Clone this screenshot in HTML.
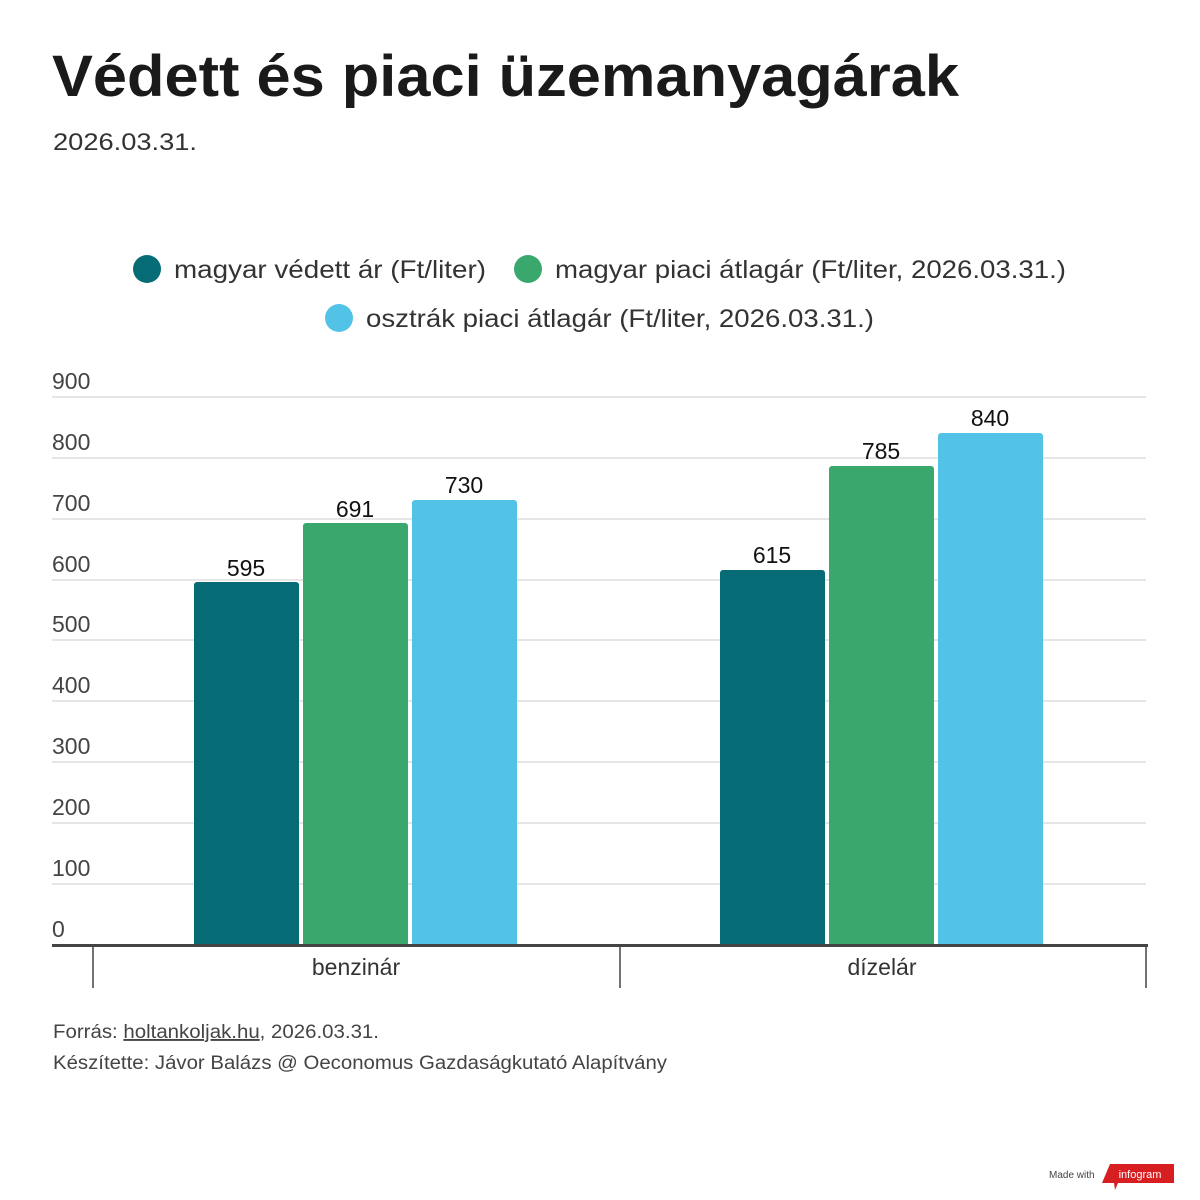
<!DOCTYPE html>
<html><head><meta charset="utf-8"><style>
html,body{margin:0;padding:0;background:#fff;width:1200px;height:1200px;overflow:hidden}
svg{display:block}
text{font-family:"Liberation Sans",sans-serif}
</style></head><body>
<svg width="1200" height="1200" viewBox="0 0 1200 1200">
<text x="52" y="96" font-size="58" font-weight="bold" fill="#1a1a1a" textLength="907" lengthAdjust="spacingAndGlyphs">Védett és piaci üzemanyagárak</text>
<text x="53" y="150" font-size="24" fill="#333" textLength="144" lengthAdjust="spacingAndGlyphs">2026.03.31.</text>
<circle cx="147" cy="269" r="14" fill="#056c75"/>
<text x="174" y="278" font-size="25" fill="#333" textLength="312" lengthAdjust="spacingAndGlyphs">magyar védett ár (Ft/liter)</text>
<circle cx="528" cy="269" r="14" fill="#3aa86c"/>
<text x="555" y="278" font-size="25" fill="#333" textLength="511" lengthAdjust="spacingAndGlyphs">magyar piaci átlagár (Ft/liter, 2026.03.31.)</text>
<circle cx="339" cy="318" r="14" fill="#52c3e6"/>
<text x="366" y="327" font-size="25" fill="#333" textLength="508" lengthAdjust="spacingAndGlyphs">osztrák piaci átlagár (Ft/liter, 2026.03.31.)</text>
<g stroke="#e6e6e6" stroke-width="2">
<line x1="52" x2="1146" y1="397" y2="397"/><line x1="52" x2="1146" y1="458" y2="458"/>
<line x1="52" x2="1146" y1="519" y2="519"/><line x1="52" x2="1146" y1="580" y2="580"/>
<line x1="52" x2="1146" y1="640" y2="640"/><line x1="52" x2="1146" y1="701" y2="701"/>
<line x1="52" x2="1146" y1="762" y2="762"/><line x1="52" x2="1146" y1="823" y2="823"/>
<line x1="52" x2="1146" y1="884" y2="884"/>
</g>
<g font-size="23" fill="#444">
<text x="52" y="389">900</text><text x="52" y="450">800</text><text x="52" y="511">700</text>
<text x="52" y="572">600</text><text x="52" y="632">500</text><text x="52" y="693">400</text>
<text x="52" y="754">300</text><text x="52" y="815">200</text><text x="52" y="876">100</text>
<text x="52" y="937">0</text>
</g>
<g>
<rect x="194" y="582" width="105" height="365" rx="3" fill="#056c75"/>
<rect x="303" y="523" width="105" height="424" rx="3" fill="#3aa86c"/>
<rect x="412" y="500" width="105" height="447" rx="3" fill="#52c3e6"/>
<rect x="720" y="570" width="105" height="377" rx="3" fill="#056c75"/>
<rect x="829" y="466" width="105" height="481" rx="3" fill="#3aa86c"/>
<rect x="938" y="433" width="105" height="514" rx="3" fill="#52c3e6"/>
</g>
<g font-size="23" fill="#111" text-anchor="middle">
<text x="246" y="576">595</text><text x="355" y="517">691</text><text x="464" y="493">730</text>
<text x="772" y="563">615</text><text x="881" y="459">785</text><text x="990" y="426">840</text>
</g>
<line x1="52" x2="1148" y1="945.5" y2="945.5" stroke="#444" stroke-width="3"/>
<g stroke="#444" stroke-width="1.5">
<line x1="93" x2="93" y1="945" y2="988"/><line x1="620" x2="620" y1="945" y2="988"/><line x1="1146" x2="1146" y1="945" y2="988"/>
</g>
<g font-size="23" fill="#333" text-anchor="middle">
<text x="356" y="975">benzinár</text><text x="882" y="975">dízelár</text>
</g>
<text x="53" y="1038" font-size="19" fill="#444" textLength="326" lengthAdjust="spacingAndGlyphs">Forrás: <tspan text-decoration="underline">holtankoljak.hu</tspan>, 2026.03.31.</text>
<text x="53" y="1069" font-size="19" fill="#444" textLength="614" lengthAdjust="spacingAndGlyphs">Készítette: Jávor Balázs @ Oeconomus Gazdaságkutató Alapítvány</text>
<text x="1049" y="1178" font-size="10" fill="#444">Made with</text>
<polygon points="1110,1164 1174,1164 1174,1183 1118,1183 1115,1190 1114,1183 1102,1183" fill="#d71f21"/>
<text x="1140" y="1178" font-size="11" fill="#fff" text-anchor="middle">infogram</text>
</svg>
</body></html>
